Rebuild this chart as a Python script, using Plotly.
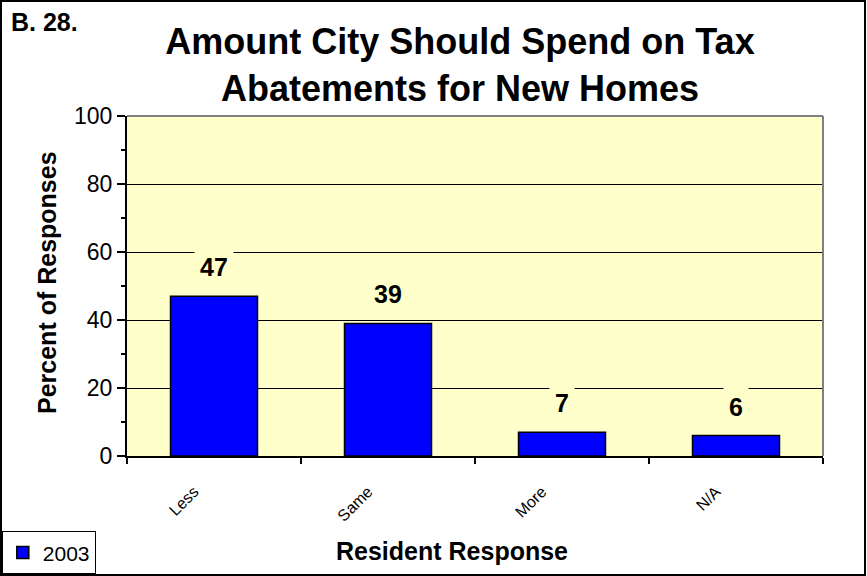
import plotly.graph_objects as go

# Chart data
categories = ["Less", "Same", "More", "N/A"]
percent_2003 = [47, 39, 7, 6]
series_name = "2003"

title_text = "Amount City Should Spend on Tax<br>Abatements for New Homes"
chart_id = "B. 28."
x_title = "Resident Response"
y_title = "Percent of Responses"

W, H = 867, 576
L, R, T, B = 127, 44, 116, 120
pw = W - L - R
ph = H - T - B
FONT = "Liberation Sans, Arial, sans-serif"
PLOT_BG = "#FFFFCC"


def px_x(x):
    return (x - L) / pw


def px_y(y):
    return 1 - (y - T) / ph


fig = go.Figure()
fig.add_trace(go.Bar(
    x=categories,
    y=percent_2003,
    name=series_name,
    width=0.5,
    marker=dict(color="#0000FF", line=dict(color="black", width=1.5)),
    showlegend=True,
))

# value labels above bars (background cuts the gridlines like the original)
for cat, val in zip(categories, percent_2003):
    fig.add_annotation(
        x=cat, y=val, text=f"<b>{val}</b>", showarrow=False,
        yanchor="middle", yshift=29,
        font=dict(family=FONT, size=25, color="black"),
        bgcolor=PLOT_BG, borderpad=5,
    )

fig.add_annotation(
    xref="paper", yref="paper", x=px_x(9), y=px_y(6),
    xanchor="left", yanchor="top", text=f"<b>{chart_id}</b>", showarrow=False,
    font=dict(family=FONT, size=25, color="black"),
)
# axis titles
fig.add_annotation(
    xref="paper", yref="paper", x=px_x(47), y=px_y(283),
    xanchor="center", yanchor="middle", textangle=-90,
    text=f"<b>{y_title}</b>", showarrow=False,
    font=dict(family=FONT, size=25, color="black"),
)
fig.add_annotation(
    xref="paper", yref="paper", x=px_x(452), y=px_y(551),
    xanchor="center", yanchor="middle",
    text=f"<b>{x_title}</b>", showarrow=False,
    font=dict(family=FONT, size=25, color="black"),
)

# grey top/right plot border
fig.add_shape(type="line", xref="paper", yref="paper", x0=0, x1=1, y0=1, y1=1,
              line=dict(color="#808080", width=2), layer="above")
fig.add_shape(type="line", xref="paper", yref="paper", x0=1, x1=1, y0=0, y1=1,
              line=dict(color="#808080", width=2), layer="above")
# outer chart border
fig.add_shape(type="rect", xref="paper", yref="paper",
              x0=px_x(1), x1=px_x(W - 2), y0=px_y(H - 1), y1=px_y(1),
              line=dict(color="black", width=2))

fig.update_layout(
    width=W, height=H,
    margin=dict(l=L, r=R, t=T, b=B, autoexpand=False),
    paper_bgcolor="white",
    plot_bgcolor=PLOT_BG,
    font=dict(family=FONT, color="black"),
    title=dict(
        text=f"<b>{title_text}</b>",
        x=460 / W, xanchor="center", xref="container",
        y=1 - 54 / H, yanchor="middle", yref="container",
        font=dict(family=FONT, size=36, color="black"),
    ),
    bargap=0.5,
    legend=dict(
        xref="container", yref="container", x=0.0015, y=0.002,
        xanchor="left", yanchor="bottom",
        bordercolor="black", borderwidth=1.5, bgcolor="white",
        font=dict(family=FONT, size=21, color="black"),
        itemwidth=30, tracegroupgap=0,
    ),
    xaxis=dict(
        tickangle=-45,
        tickfont=dict(family=FONT, size=16),
        ticks="outside", ticklen=6, tickcolor="black", tickwidth=1.5,
        tickson="boundaries",
        showline=True, linecolor="black", linewidth=2,
        showgrid=False, automargin=False,
        ticklabelshift=-20, ticklabelstandoff=18,
    ),
    yaxis=dict(
        range=[0, 100], dtick=20,
        tickfont=dict(family=FONT, size=23),
        ticks="outside", ticklen=8, tickcolor="black", tickwidth=1.5,
        minor=dict(dtick=10, ticks="outside", ticklen=4, tickcolor="black",
                   tickwidth=1.5, showgrid=False),
        showline=True, linecolor="black", linewidth=2,
        showgrid=True, gridcolor="black", gridwidth=1,
        zeroline=False, automargin=False,
    ),
)

# page body has a default 8px margin; drop it so the chart fills the window
fig.write_html(
    "out.html",
    config={"displayModeBar": False},
    post_script="document.body.style.margin='0';",
)
